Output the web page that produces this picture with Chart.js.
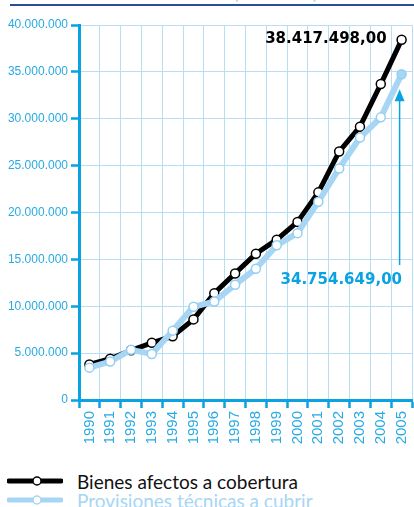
<!DOCTYPE html>
<html>
<head>
<meta charset="utf-8">
<script src="https://cdn.jsdelivr.net/npm/chart.js@4"></script>
<style>
  html, body { margin: 0; padding: 0; background: #fff; overflow: hidden; }
  #wrap { position: relative; width: 414px; height: 507px; overflow: hidden; }
  #title { position: absolute; left: 0; top: -21px; width: 414px; text-align: center;
           font: 20px Lato, sans-serif; color: #9fd3f2; white-space: nowrap; }
  #rule { position: absolute; left: 10px; right: 0; top: 4px; height: 2px; background: #2b4f94; }
  #chartBox { position: absolute; left: 0; top: 0; width: 414px; height: 460px; overflow: hidden; }
  .leg { position: absolute; left: 7px; height: 20px; display: flex; align-items: center;
         font: 19px Lato, sans-serif; white-space: nowrap; }
  .leg svg { margin-right: 14px; }
</style>
</head>
<body>
<div id="wrap">
  <div id="title">de la cobertura (en euros)</div>
  <div id="rule"></div>
  <div id="chartBox"><canvas id="c" width="418" height="460"></canvas></div>
  <div class="leg" style="top:471px;color:#111">
    <svg width="56" height="12"><line x1="2" y1="6" x2="54" y2="6" stroke="#000" stroke-width="5" stroke-linecap="round"/><circle cx="30" cy="6" r="4" fill="#fff" stroke="#000" stroke-width="1.5"/></svg>
    Bienes afectos a cobertura</div>
  <div class="leg" style="top:490px;color:#a6d6f4">
    <svg width="56" height="12"><line x1="2" y1="6" x2="54" y2="6" stroke="#a6d6f4" stroke-width="5" stroke-linecap="round"/><circle cx="30" cy="6" r="4" fill="#fff" stroke="#a6d6f4" stroke-width="1.5"/></svg>
    Provisiones técnicas a cubrir</div>
</div>
<script>
const years = ['1990', '1991', '1992', '1993', '1994', '1995', '1996', '1997',
               '1998', '1999', '2000', '2001', '2002', '2003', '2004', '2005'];
// Bienes afectos a cobertura (euros)
const bienes = [3800000, 4400000, 5300000, 6100000, 6800000, 8600000, 11400000, 13500000,
                15600000, 17100000, 19000000, 22150000, 26500000, 29150000, 33700000, 38417498];
// Provisiones técnicas a cubrir (euros)
const provisiones = [3450000, 4100000, 5350000, 4900000, 7400000, 9950000, 10500000, 12300000,
                     14000000, 16500000, 17800000, 21150000, 24700000, 28000000, 30150000, 34754649];
const yTicks = [0, 5000000, 10000000, 15000000, 20000000, 25000000, 30000000, 35000000, 40000000];
const labelBienes = '38.417.498,00';
const labelProvisiones = '34.754.649,00';

const SKY = '#0aa2e2';
const GRID = '#b8def5';
const LIGHT = '#a6d6f4';
const TICKFONT = '"Liberation Sans", Arial, sans-serif';

const fmt = v => v === 0 ? '0' : v.toLocaleString('de-DE');

const callouts = {
  id: 'callouts',
  afterDatasetsDraw(chart) {
    const { ctx, scales: { x, y }, chartArea } = chart;
    const last = years.length - 1;
    const px = x.getPixelForValue(last);
    ctx.save();
    ctx.font = 'bold 15px "DejaVu Sans", sans-serif';
    ctx.textBaseline = 'middle';
    ctx.textAlign = 'right';
    ctx.fillStyle = '#000';
    ctx.fillText(labelBienes, px - 15, y.getPixelForValue(bienes[last]) - 1);

    // blue value with arrow up to the last point
    const top = y.getPixelForValue(provisiones[last]) + 15;
    const labelY = y.getPixelForValue(12800000);
    ctx.fillStyle = SKY;
    ctx.fillText(labelProvisiones, chartArea.right - 10, labelY);
    ctx.strokeStyle = SKY;
    ctx.lineWidth = 1.5;
    ctx.beginPath();
    ctx.moveTo(px - 2, labelY - 15);
    ctx.lineTo(px - 2, top + 8);
    ctx.stroke();
    ctx.beginPath();
    ctx.moveTo(px - 2, top);
    ctx.lineTo(px - 7, top + 12);
    ctx.lineTo(px + 3, top + 12);
    ctx.closePath();
    ctx.fill();
    ctx.restore();
  }
};

new Chart(document.getElementById('c'), {
  type: 'line',
  data: {
    labels: years,
    datasets: [
      {
        label: 'Bienes afectos a cobertura',
        data: bienes,
        borderColor: '#000',
        borderWidth: 5,
        pointRadius: 4.5,
        pointBorderWidth: 1.5,
        pointBorderColor: '#000',
        pointBackgroundColor: '#fff',
        tension: 0,
        order: 2,
      },
      {
        label: 'Provisiones técnicas a cubrir',
        data: provisiones,
        borderColor: LIGHT,
        borderWidth: 6,
        pointRadius: 4.5,
        pointBorderWidth: 1.5,
        pointBorderColor: '#93cff2',
        pointBackgroundColor: provisiones.map((v, i) => i === provisiones.length - 1 ? LIGHT : '#fff'),
        tension: 0,
        order: 1,
      },
    ],
  },
  options: {
    responsive: false,
    animation: false,
    clip: false,
    layout: { padding: { top: 25, right: 0, left: 0, bottom: 0 } },
    plugins: { legend: { display: false }, tooltip: { enabled: false } },
    scales: {
      x: {
        type: 'category',
        offset: true,
        afterFit: s => { s.height = 60; s.paddingLeft = 0; s.paddingRight = 0; },
        grid: { offset: true, color: GRID, lineWidth: 1, tickLength: 8, tickColor: SKY, tickWidth: 2.5 },
        border: { color: SKY, width: 3 },
        ticks: {
          autoSkip: false, minRotation: 90, maxRotation: 90, padding: 3,
          color: '#29aae2', font: { family: TICKFONT, size: 15 },
        },
      },
      y: {
        min: 0,
        max: 40000000,
        afterFit: s => { s.width = 79; },
        afterBuildTicks: s => { s.ticks = yTicks.map(v => ({ value: v })); },
        grid: { color: GRID, lineWidth: 1, tickLength: 8, tickColor: SKY, tickWidth: 2.5 },
        border: { color: SKY, width: 3 },
        ticks: {
          callback: v => fmt(v), padding: 3,
          color: '#29aae2', font: { family: TICKFONT, size: 12 },
        },
      },
    },
  },
  plugins: [callouts],
});
</script>
</body>
</html>
